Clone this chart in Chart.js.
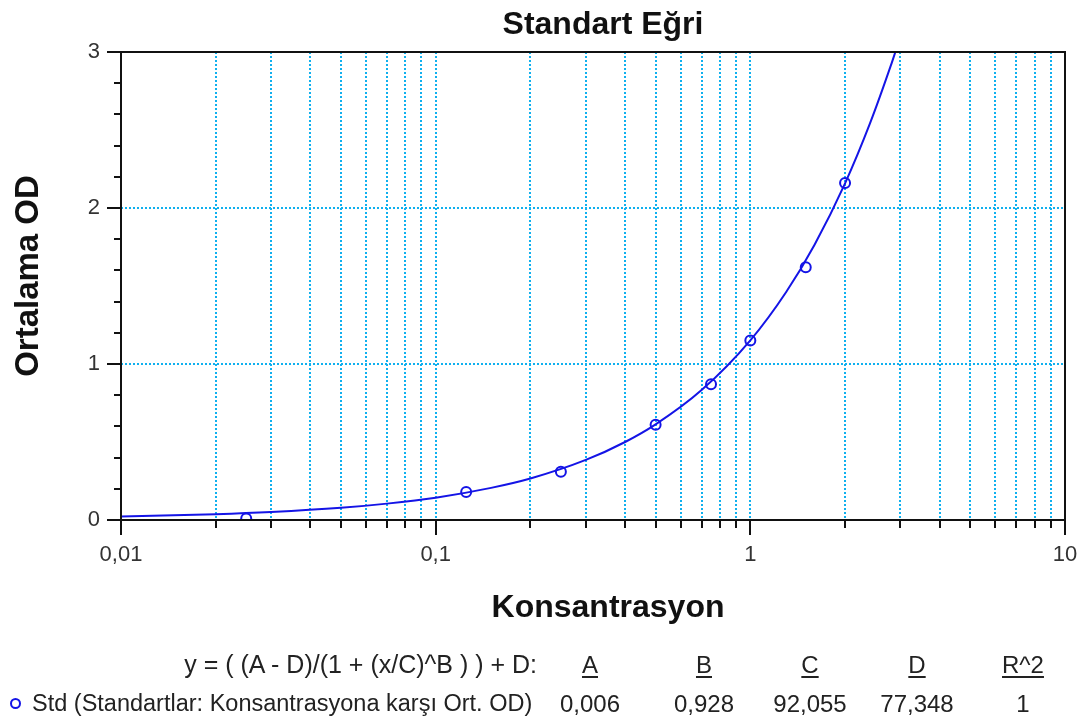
<!DOCTYPE html>
<html>
<head>
<meta charset="utf-8">
<title>Standart Eğri</title>
<script src="https://cdn.jsdelivr.net/npm/chart.js@4.4.1/dist/chart.umd.min.js"></script>
<style>
  html, body { margin: 0; padding: 0; background: #fff; }
  #wrap { position: relative; width: 1088px; height: 720px; overflow: hidden;
          font-family: "Liberation Sans", Arial, sans-serif; color: #222; }
  #stdChart { position: absolute; left: 0; top: 0; }
  .t { position: absolute; white-space: nowrap; line-height: 1; }
  .ttl { font-weight: bold; font-size: 32px; color: #111; }
  .row { font-size: 24px; }
  .col { width: 140px; text-align: center; }
  .hdr { text-decoration: underline; text-underline-offset: 3px; }
  .mark { display: inline-block; width: 7px; height: 7px; border: 2px solid #1414e6;
          border-radius: 50%; position: absolute; left: 10px; top: 698px; }
</style>
</head>
<body>
<div id="wrap">
  <canvas id="stdChart" width="1088" height="720"></canvas>
  <div class="t ttl" style="left:403px; width:400px; text-align:center; top:7px;">Standart Eğri</div>
  <div class="t ttl" style="left:408px; width:400px; text-align:center; top:590px;">Konsantrasyon</div>
  <div class="t ttl" style="left:-124px; top:260px; width:300px; text-align:center; height:32px; transform:rotate(-90deg); font-size:33px;">Ortalama OD</div>
  <div id="fitTable"></div>
</div>
<script>
// standards (measured points)
const stdConc = [0.025, 0.125, 0.25, 0.5, 0.75, 1, 1.5, 2];
const stdOD   = [0.01, 0.18, 0.31, 0.61, 0.87, 1.15, 1.62, 2.16];

// fitted curve
const fitConc = [0.01, 0.02, 0.03, 0.05, 0.07, 0.1, 0.15, 0.2, 0.3, 0.4, 0.5, 0.7, 1, 1.3, 1.6, 2, 2.4, 2.8, 2.9];
const fitOD   = [0.022, 0.037, 0.051, 0.078, 0.105, 0.143, 0.206, 0.266, 0.385, 0.5, 0.613, 0.833, 1.152, 1.462, 1.765, 2.158, 2.542, 2.917, 3.01];

// axes
const xTickValues = [0.01, 0.1, 1, 10];
const xTickLabels = ["0,01", "0,1", "1", "10"];
const yTickValues = [0, 1, 2, 3];
const yTickLabels = ["0", "1", "2", "3"];

// fit table
const equationText = "y = ( (A - D)/(1 + (x/C)^B ) ) + D:";
const seriesLabel  = "Std (Standartlar: Konsantrasyona karşı Ort. OD)";
const paramNames   = ["A", "B", "C", "D", "R^2"];
const paramValues  = ["0,006", "0,928", "92,055", "77,348", "1"];

const BLUE = "#1414e6";
const GRID = "#10b0ee";
const FONT = "'Liberation Sans', Arial, sans-serif";

function isDecade(v){
  const l = Math.log10(v);
  return Math.abs(l - Math.round(l)) < 1e-6;
}

// 1..9 in each decade, used for grid + tick marks
const xGridValues = [];
[0.01, 0.1, 1].forEach(d => {
  for (let m = 1; m <= 9; m++) xGridValues.push(+(m * d).toPrecision(3));
});
xGridValues.push(10);

const frameAndTicks = {
  id: "frameAndTicks",
  afterDraw(chart){
    const {ctx, chartArea: a, scales} = chart;
    const x = scales.x, y = scales.y;
    ctx.save();
    ctx.strokeStyle = "#111";
    ctx.lineWidth = 2;
    ctx.strokeRect(a.left, a.top, a.right - a.left, a.bottom - a.top);
    ctx.beginPath();
    xGridValues.forEach(v => {
      const px = Math.round(x.getPixelForValue(v));
      ctx.moveTo(px, a.bottom);
      ctx.lineTo(px, a.bottom + (isDecade(v) ? 15 : 8));
    });
    for (let i = 0; i <= 15; i++){
      const py = Math.round(y.getPixelForValue(i / 5));
      ctx.moveTo(a.left - (i % 5 === 0 ? 14 : 7), py);
      ctx.lineTo(a.left, py);
    }
    ctx.stroke();
    ctx.restore();
  }
};

new Chart(document.getElementById("stdChart").getContext("2d"), {
  type: "line",
  data: {
    datasets: [
      {
        label: "Fit",
        data: fitConc.map((c, i) => ({x: c, y: fitOD[i]})),
        borderColor: BLUE,
        borderWidth: 2,
        pointRadius: 0,
        fill: false,
        cubicInterpolationMode: "monotone"
      },
      {
        label: seriesLabel,
        data: stdConc.map((c, i) => ({x: c, y: stdOD[i]})),
        showLine: false,
        borderColor: BLUE,
        backgroundColor: "rgba(0,0,0,0)",
        pointStyle: "circle",
        pointRadius: 5,
        pointBorderWidth: 2
      }
    ]
  },
  options: {
    responsive: false,
    animation: false,
    devicePixelRatio: 1,
    layout: { padding: { top: 52, right: 23, bottom: 0, left: 0 } },
    plugins: {
      legend: { display: false },
      title: { display: false },
      tooltip: { enabled: false }
    },
    scales: {
      x: {
        type: "logarithmic",
        min: 0.01,
        max: 10,
        afterFit(scale){
          scale.height = 200;
          scale.paddingLeft = 0;
          scale.paddingRight = 0;
        },
        afterBuildTicks(scale){ scale.ticks = xGridValues.map(v => ({value: v})); },
        border: { display: false, dash: [2, 2] },
        grid: {
          drawTicks: false,
          lineWidth: 2,
          color: c => (c.tick && (c.tick.value === 0.01 || c.tick.value === 10)) ? "rgba(0,0,0,0)" : GRID
        },
        ticks: {
          autoSkip: false,
          maxRotation: 0,
          minRotation: 0,
          padding: 22,
          color: "#333",
          font: { family: FONT, size: 22 },
          callback: v => {
            const k = xTickValues.findIndex(t => Math.abs(t - v) < 1e-9);
            return k >= 0 ? xTickLabels[k] : "";
          }
        }
      },
      y: {
        min: 0,
        max: 3,
        afterFit(scale){
          scale.width = 121;
          scale.paddingTop = 0;
          scale.paddingBottom = 0;
        },
        afterBuildTicks(scale){ scale.ticks = yTickValues.map(v => ({value: v})); },
        border: { display: false, dash: [2, 2] },
        grid: {
          drawTicks: false,
          lineWidth: 2,
          color: c => (c.tick && (c.tick.value === 0 || c.tick.value === 3)) ? "rgba(0,0,0,0)" : GRID
        },
        ticks: {
          padding: 21,
          color: "#333",
          font: { family: FONT, size: 22 },
          callback: v => yTickLabels[yTickValues.indexOf(v)]
        }
      }
    }
  },
  plugins: [frameAndTicks]
});

// fit table under the chart
const colCenters = [590, 704, 810, 917, 1023];
const table = document.getElementById("fitTable");
let html = '<div class="t row" style="right:551px; top:652px; font-size:25px;">' + equationText + '</div>';
html += '<span class="mark"></span>';
html += '<div class="t row" style="left:32px; top:692px; font-size:23.5px;">' + seriesLabel + '</div>';
paramNames.forEach((n, i) => {
  const left = colCenters[i] - 70;
  html += '<div class="t row col hdr" style="left:' + left + 'px; top:653px;">' + n + '</div>';
  html += '<div class="t row col" style="left:' + left + 'px; top:692px;">' + paramValues[i] + '</div>';
});
table.innerHTML = html;
</script>
</body>
</html>
